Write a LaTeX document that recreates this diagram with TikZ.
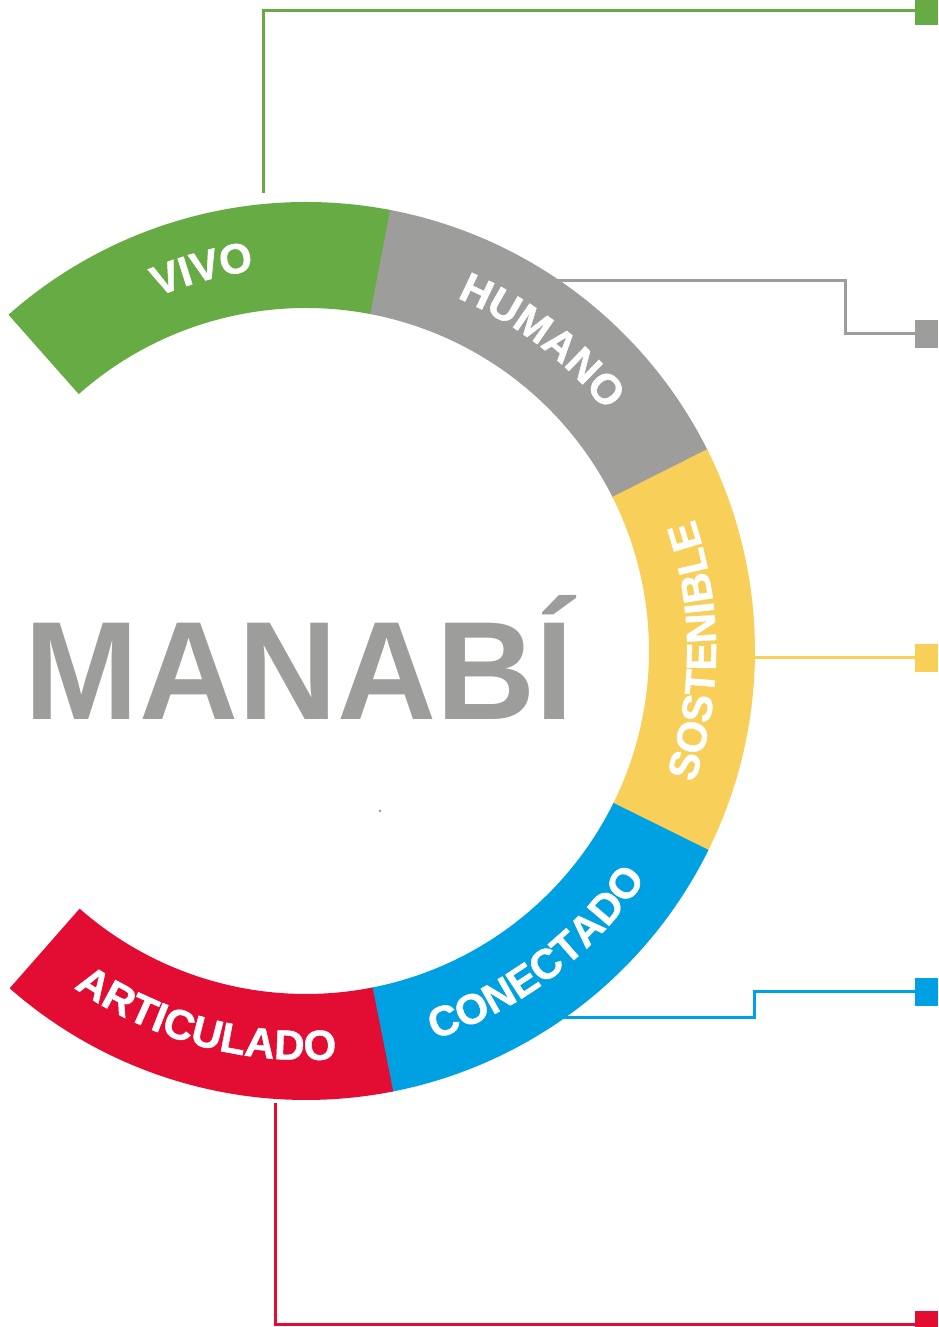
\documentclass[tikz,border=0pt]{standalone}
\usepackage{fontspec}
\setmainfont{Liberation Sans}
\newfontfamily\lblfont{Liberation Sans Bold}[FakeBold=1.2]
\usetikzlibrary{decorations.text}
\definecolor{cG}{HTML}{66AB44}
\definecolor{cH}{HTML}{9D9D9C}
\definecolor{cS}{HTML}{F8CF59}
\definecolor{cC}{HTML}{00A1E3}
\definecolor{cA}{HTML}{E30D34}
\newcommand\lblfmt{\fontsize{42}{42}\selectfont\lblfont\bfseries\color{white}}
\tikzset{
  sqbox/.style={rectangle, inner sep=0pt, minimum width=23pt, minimum height=28pt, draw=none},
  conn/.style={line width=3pt},
  arclabel/.style={decorate, decoration={text along path, text align=center, text={|\lblfmt|#1}}}
}
\begin{document}
\begin{tikzpicture}[x=1pt,y=1pt]
\useasboundingbox (0,0) rectangle (938,1327);
\begin{scope}[shift={(306,676)}]
  % ring segments
  \fill[cG] (131.5:449) arc[start angle=131.5,end angle=79,radius=449pt] -- (79:343) arc[start angle=79,end angle=131.5,radius=343pt] -- cycle;
  \fill[cH] (79.2:449) arc[start angle=79.2,end angle=26.5,radius=449pt] -- (26.5:343) arc[start angle=26.5,end angle=79.2,radius=343pt] -- cycle;
  \fill[cS] (26.7:449) arc[start angle=26.7,end angle=-26.5,radius=449pt] -- (-26.5:343) arc[start angle=-26.5,end angle=26.7,radius=343pt] -- cycle;
  \fill[cC] (-26.3:449) arc[start angle=-26.3,end angle=-79,radius=449pt] -- (-79:343) arc[start angle=-79,end angle=-26.3,radius=343pt] -- cycle;
  \fill[cA] (-78.8:449) arc[start angle=-78.8,end angle=-131.3,radius=449pt] -- (-131.3:343) arc[start angle=-131.3,end angle=-78.8,radius=343pt] -- cycle;
  % curved labels
  \path[arclabel=VIVO] (131.5:384) arc[start angle=131.5,end angle=79,radius=384pt];
  \path[arclabel=HUMANO] (79:384) arc[start angle=79,end angle=26.5,radius=384pt];
  \path[arclabel=SOSTENIBLE] (-26.5:410) arc[start angle=-26.5,end angle=26.5,radius=410pt];
  \path[arclabel=CONECTADO] (-79:409) arc[start angle=-79,end angle=-26.5,radius=409pt];
  \path[arclabel=ARTICULADO] (-131.3:409) arc[start angle=-131.3,end angle=-79,radius=409pt];
\end{scope}
% title
\node[font=\fontsize{140}{140}\selectfont\bfseries, text=cH, anchor=base, inner sep=0pt, xscale=0.98] (title) at (299.3,607.4) {MANABÍ};
\fill[cH] (380,516) circle (1.5pt);
% end squares
\node[sqbox, fill=cG] (gQ) at (926.5,1316) {};
\node[sqbox, fill=cH] (hQ) at (926.5,993) {};
\node[sqbox, fill=cS] (sQ) at (926.5,669) {};
\node[sqbox, fill=cC] (cQ) at (926.5,335) {};
\node[sqbox, fill=cA] (aQ) at (926.5,2) {};
% connector start and bend points
\coordinate (gS) at (263,1134);
\coordinate (hS) at (558,1046);
\coordinate (hB) at (845,993);
\coordinate (sS) at (754,669);
\coordinate (cS) at (558,309);
\coordinate (cB) at (754,335);
\coordinate (aS) at (275,224);
% connectors
\draw[conn, cG] (gS) |- (gQ.west);
\draw[conn, cH] (hS) -| (hB) -- (hQ.west);
\draw[conn, cS] (sS) -- (sQ.west);
\draw[conn, cC] (cS) -| (cB) -- (cQ.west);
\draw[conn, cA] (aS) |- (aQ.west);
\end{tikzpicture}
\end{document}
